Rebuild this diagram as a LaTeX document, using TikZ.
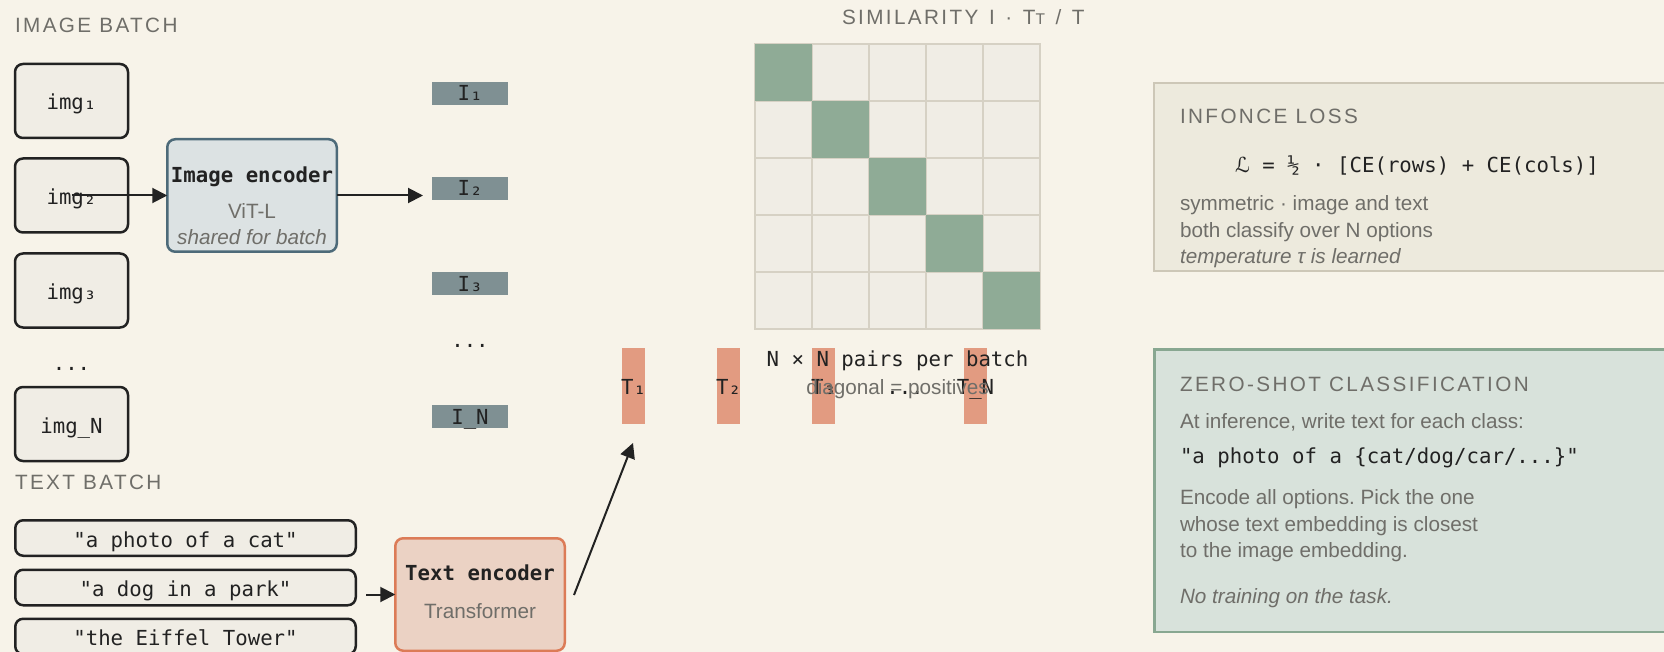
\documentclass[tikz,border=0pt]{standalone}
\usepackage{fontspec}
\setmainfont{Liberation Sans}
\setmonofont{DejaVu Sans Mono}
\newfontfamily\capfam[LetterSpace=11.5]{Liberation Sans}
\newfontfamily\symfam{DejaVu Sans}
\usetikzlibrary{arrows.meta}
\definecolor{bg}{HTML}{F7F3E9}
\definecolor{ink}{HTML}{222222}
\definecolor{boxfill}{HTML}{F0EDE5}
\definecolor{muted}{HTML}{6F6E69}
\definecolor{cellline}{HTML}{D6D1C4}
\definecolor{diag}{HTML}{8FAB96}
\definecolor{ibar}{HTML}{7F9093}
\definecolor{tbar}{HTML}{E29B81}
\definecolor{encfill}{HTML}{DCE2E3}
\definecolor{encline}{HTML}{4D6A79}
\definecolor{tencfill}{HTML}{EBD2C4}
\definecolor{tencline}{HTML}{DC7B57}
\definecolor{lossfill}{HTML}{EDEADD}
\definecolor{lossline}{HTML}{CDC7B7}
\definecolor{zsfill}{HTML}{D8E2DB}
\definecolor{zsline}{HTML}{88A791}
\newcommand\monotxt{\fontsize{20.7pt}{24pt}\selectfont\ttfamily}
\newcommand\sanstxt{\fontsize{20.7pt}{24pt}\selectfont\rmfamily}
\newcommand\captxt{\fontsize{20.7pt}{24pt}\selectfont\capfam}
\newcommand\wsp{\hspace{10.6pt}}
\frenchspacing
\begin{document}
\begin{tikzpicture}[x=1pt,y=-1pt,
  every node/.style={inner sep=0pt,outer sep=0pt},
  batchbox/.style={draw=ink,line width=2.5pt,rounded corners=8pt,fill=boxfill,minimum width=113pt,minimum height=74pt},
  textbox/.style={draw=ink,line width=2.5pt,rounded corners=8pt,fill=boxfill,minimum width=340.5pt,minimum height=35.5pt},
  encbox/.style={line width=2.5pt,rounded corners=8pt,minimum width=169.5pt,minimum height=112.5pt},
  ibarbox/.style={fill=ibar,minimum width=76pt,minimum height=23pt},
  tbarbox/.style={fill=tbar,minimum width=23pt,minimum height=76pt},
  lab/.style={anchor=base,text=ink,font=\monotxt},
  boldlab/.style={anchor=base,text=ink,font=\monotxt\bfseries},
  sub/.style={anchor=base,text=muted,font=\sanstxt},
  head/.style={anchor=base west,text=muted,font=\captxt},
  note/.style={anchor=base west,text=muted,font=\sanstxt},
  arr/.style={draw=ink,line width=2pt,-{Triangle[length=15pt,width=15pt]}},
  cell/.style={fill=boxfill,draw=cellline,line width=2pt,minimum size=57pt},
  diagcell/.style={fill=diag,minimum size=57pt}]
\useasboundingbox (0,0) rectangle (1664,652);
\clip (0,0) rectangle (1664,652);
\fill[bg] (0,0) rectangle (1664,652);

% headers
\node[head] (hImg) at (15,33) {IMAGE BATCH};
\node[head] (hTxt) at (15,489) {TEXT BATCH};
\node[head] (hSim) at (842,25) {SIMILARITY\wsp I\wsp ·\wsp T{\fontsize{15.5pt}{15pt}\selectfont T}\wsp /\wsp T};

% image batch
\node[batchbox] (img1) at (71.5,101) {};
\node[batchbox] (img2) at (71.5,195.5) {};
\node[batchbox] (img3) at (71.5,290.5) {};
\node[batchbox] (imgN) at (71.5,424) {};
\node[lab] (img1t) at (71.5,110) {img₁};
\node[lab] (img2t) at (71.5,204.5) {img₂};
\node[lab] (img3t) at (71.5,299.5) {img₃};
\node[lab] (imgdots) at (71.5,370) {...};
\node[lab] (imgNt) at (71.5,433) {img\_N};

% image encoder
\node[encbox,fill=encfill,draw=encline] (imgenc) at (252,195.5) {};
\node[boldlab] (imgencA) at (252,182.5) {Image encoder};
\node[sub] (imgencB) at (252,219) {ViT-L};
\node[sub,font=\sanstxt\itshape] (imgencC) at (252,245) {shared for batch};

% image embeddings
\node[ibarbox] (I1) at (470,93.5) {};
\node[ibarbox] (I2) at (470,188.5) {};
\node[ibarbox] (I3) at (470,283.5) {};
\node[ibarbox] (IN) at (470,416.5) {};
\node[lab] (I1t) at (470,101) {I₁};
\node[lab] (I2t) at (470,196) {I₂};
\node[lab] (I3t) at (470,291) {I₃};
\node[lab] (Idots) at (470,347) {...};
\node[lab] (INt) at (470,424) {I\_N};

% text batch
\node[textbox] (tb1) at (185.5,538) {};
\node[textbox] (tb2) at (185.5,587.5) {};
\node[textbox] (tb3) at (185.5,636.5) {};
\node[lab] (tb1t) at (185.5,547) {"a photo of a cat"};
\node[lab] (tb2t) at (185.5,596.5) {"a dog in a park"};
\node[lab] (tb3t) at (185.5,645.5) {"the Eiffel Tower"};

% text encoder
\node[encbox,fill=tencfill,draw=tencline] (txtenc) at (480,594.5) {};
\node[boldlab] (txtencA) at (480,580.5) {Text encoder};
\node[sub] (txtencB) at (480,618) {Transformer};

% similarity matrix
\foreach \r in {0,...,4}{
  \foreach \c in {0,...,4}{
    \node[cell] (m\r\c) at ({783.5+57*\c},{72.5+57*\r}) {};
  }
}
\foreach \k in {0,...,4}{
  \node[diagcell] (d\k) at ({783.5+57*\k},{72.5+57*\k}) {};
}

% text embeddings
\node[tbarbox] (T1) at (633.5,386) {};
\node[tbarbox] (T2) at (728.5,386) {};
\node[tbarbox] (T3) at (823.5,386) {};
\node[tbarbox] (TN) at (975.5,386) {};
\node[lab] (T1t) at (633.5,394) {T₁};
\node[lab] (T2t) at (728.5,394) {T₂};
\node[lab] (T3t) at (823.5,394) {T₃};
\node[lab] (Tdots) at (905,394) {...};
\node[lab] (TNt) at (975.5,394) {T\_N};

\node[lab] (pairs) at (897.5,366.5) {N × N pairs per batch};
\node[sub] (diagtxt) at (897.5,394) {diagonal = positives};

% connectors
\coordinate (i2in) at (423,195.5);
\coordinate (tbout) at (366,594.5);
\coordinate (teout) at (574,595);
\coordinate (t1in) at (633,443);
\draw[arr] (img2.center) -- (imgenc.west);
\draw[arr] (imgenc.east) -- (i2in);
\draw[arr] (tbout) -- (txtenc.west);
\draw[arr] (teout) -- (t1in);

% InfoNCE panel
\node[draw=lossline,fill=lossfill,line width=2pt,anchor=north west,minimum width=540pt,minimum height=188pt] (loss) at (1154,83) {};
\node[head] (lossH) at (1180,124) {INFONCE LOSS};
\node[lab,anchor=base west] (lossF) at (1235,173) {{\symfam ℒ} = ½ · [CE(rows) + CE(cols)]};
\node[note] (lossA) at (1180,211) {symmetric · image and text};
\node[note] (lossB) at (1180,237.5) {both classify over N options};
\node[note,font=\sanstxt\itshape] (lossC) at (1180,264) {temperature τ is learned};

% zero-shot panel
\node[draw=zsline,fill=zsfill,line width=2.5pt,anchor=north west,minimum width=540pt,minimum height=282.5pt] (zs) at (1154.25,349.25) {};
\node[head] (zsH) at (1180,391) {ZERO-SHOT CLASSIFICATION};
\node[note] (zsA) at (1180,428) {At inference, write text for each class:};
\node[lab,anchor=base west] (zsB) at (1180,463) {"a photo of a \{cat/dog/car/...\}"};
\node[note] (zsC) at (1180,504) {Encode all options. Pick the one};
\node[note] (zsD) at (1180,531) {whose text embedding is closest};
\node[note] (zsE) at (1180,557) {to the image embedding.};
\node[note,font=\sanstxt\itshape] (zsF) at (1180,603) {No training on the task.};
\end{tikzpicture}
\end{document}
